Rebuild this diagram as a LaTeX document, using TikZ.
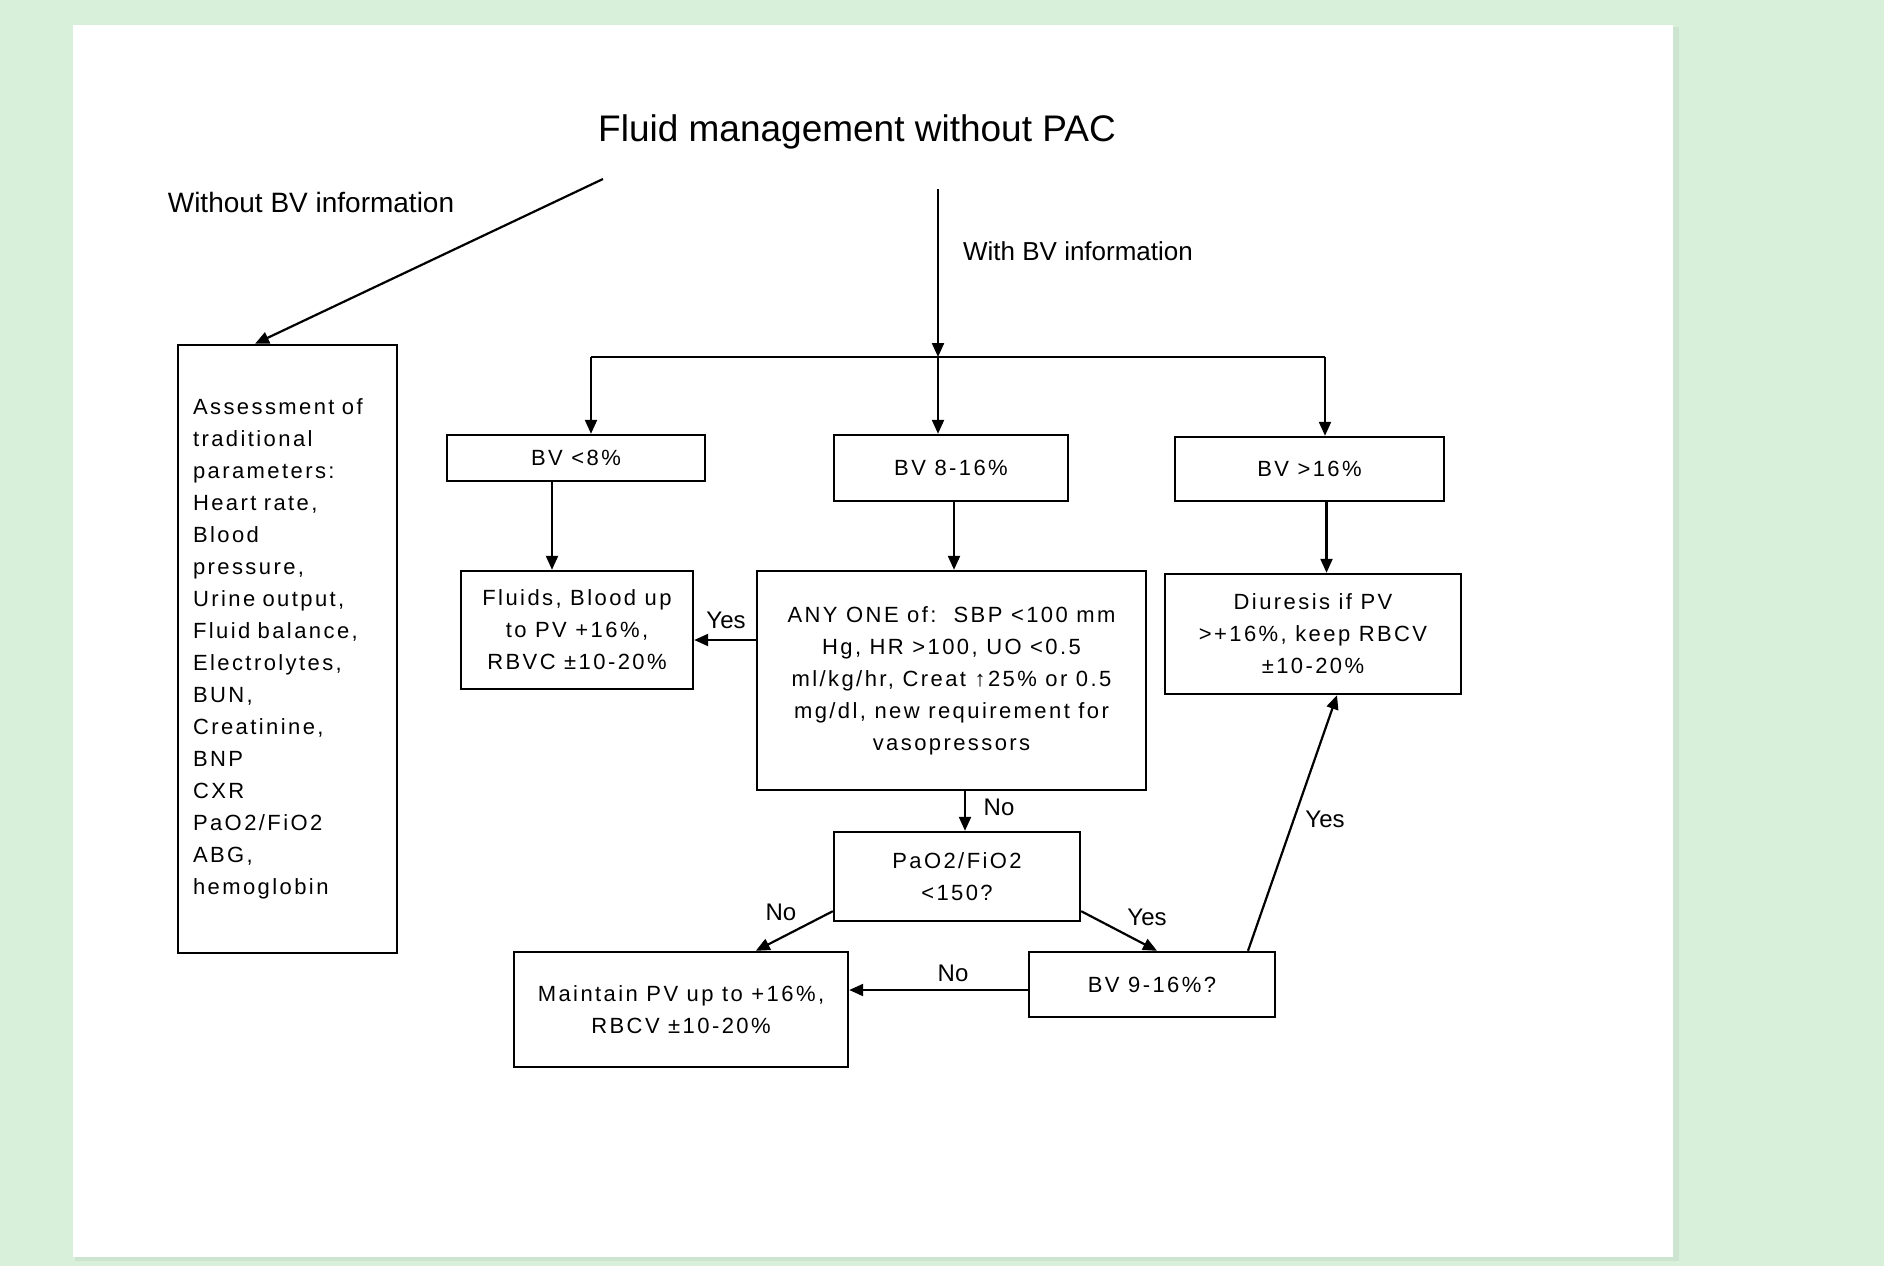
\documentclass[tikz,border=0pt]{standalone}
\usepackage{fontspec}
\setmainfont{Liberation Sans}
\newfontfamily\boxfont[LetterSpace=11]{Liberation Sans}
\usetikzlibrary{arrows.meta}
\definecolor{bggreen}{RGB}{216,240,218}
\definecolor{edgegreen}{RGB}{205,228,208}
\begin{document}
\begin{tikzpicture}[x=1pt,y=-1pt,
  box/.style={draw=black, line width=2.4pt, inner sep=0pt, align=center,
    font=\boxfont\fontsize{22}{32}\selectfont},
  arr/.style={draw=black, line width=2.2pt, -{Triangle[length=14pt,width=12pt]}},
  plain/.style={draw=black, line width=2.2pt},
  lbl/.style={inner sep=0pt, font=\fontsize{24}{28}\selectfont}]
\fill[bggreen] (0,0) rectangle (1884,1266);
\useasboundingbox (0,0) rectangle (1884,1266);
\fill[edgegreen] (75,27) rectangle (1679,1261);
\fill[white] (73,25) rectangle (1673,1257);

% title and branch labels
\node[inner sep=0pt, font=\fontsize{37}{40}\selectfont] (title) at (857,132) {Fluid management without PAC};
\node[inner sep=0pt, font=\fontsize{28}{32}\selectfont] (wo) at (311,202) {Without BV information};
\node[inner sep=0pt, font=\fontsize{26}{30}\selectfont] (wi) at (1078,251) {With BV information};

% boxes
\node[box, minimum width=219pt, minimum height=608pt, text width=189pt, inner xsep=15pt, align=left] (left) at (287.5,649)
 {Assessment of\\traditional\\parameters:\\Heart rate,\\Blood\\pressure,\\Urine output,\\Fluid balance,\\Electrolytes,\\BUN,\\Creatinine,\\BNP\\CXR\\PaO2/FiO2\\ABG,\\hemoglobin};
\node[box, minimum width=258pt, minimum height=46pt] (bvlow) at (576,458) {BV <8\%};
\node[box, minimum width=234pt, minimum height=66pt] (bvmid) at (951,468) {BV 8-16\%};
\node[box, minimum width=269pt, minimum height=64pt] (bvhigh) at (1309.5,469) {BV >16\%};
\node[box, minimum width=232pt, minimum height=118pt] (fluids) at (577,630) {Fluids, Blood up\\to PV +16\%,\\RBVC ±10-20\%};
\node[box, minimum width=389pt, minimum height=219pt] (anyone) at (951.5,680.5)
 {ANY ONE of:\ \ SBP <100 mm\\Hg, HR >100, UO <0.5\\ml/kg/hr, Creat ↑25\% or 0.5\\mg/dl, new requirement for\\vasopressors};
\node[box, minimum width=296pt, minimum height=120pt] (diur) at (1313,634) {Diuresis if PV\\>+16\%, keep RBCV\\±10-20\%};
\node[box, minimum width=246pt, minimum height=89pt] (pao2) at (957,876.5) {PaO2/FiO2\\<150?};
\node[box, minimum width=334pt, minimum height=115pt] (maint) at (681,1009.5) {Maintain PV up to +16\%,\\RBCV ±10-20\%};
\node[box, minimum width=246pt, minimum height=65pt] (bvq) at (1152,984.5) {BV 9-16\%?};

% connectors
\coordinate (t1) at (603,179);
\coordinate (w1) at (938,189);
\coordinate (jl) at (591,357);
\coordinate (jm) at (938,357);
\coordinate (jr) at (1325,357);
\draw[arr] (t1) -- ([xshift=-32.5pt]left.north);
\draw[arr] (w1) -- (jm);
\draw[plain] (jl) -- (jr);
\draw[arr] (jl) -- (jl |- bvlow.north);
\draw[arr] (jm) -- (jm |- bvmid.north);
\draw[arr] (jr) -- (jr |- bvhigh.north);
\draw[arr] ([xshift=-24pt]bvlow.south) -- ([xshift=-24pt]bvlow.south |- fluids.north);
\draw[arr] ([xshift=3pt]bvmid.south) -- ([xshift=3pt]bvmid.south |- anyone.north);
\draw[arr] ([xshift=17pt]bvhigh.south) -- ([xshift=17pt]bvhigh.south |- diur.north);
\draw[arr] ([yshift=40.5pt]anyone.west) -- ([yshift=40.5pt]anyone.west -| fluids.east);
\draw[arr] ([xshift=13.5pt]anyone.south) -- ([xshift=13.5pt]anyone.south |- pao2.north);
\draw[arr] ([yshift=11pt]pao2.south west) -- ([xshift=243pt]maint.north west);
\draw[arr] ([yshift=11pt]pao2.south east) -- ([xshift=5pt]bvq.north);
\draw[arr] ([yshift=-5.5pt]bvq.west) -- ([yshift=-5.5pt]bvq.west -| maint.east);
\draw[arr] ([xshift=96pt]bvq.north) -- ([xshift=24pt]diur.south);

% connector labels
\node[lbl] (yes1) at (726,620) {Yes};
\node[lbl] (no1) at (999,807) {No};
\node[lbl] (no2) at (781,912) {No};
\node[lbl] (yes2) at (1147,917) {Yes};
\node[lbl] (no3) at (953,973) {No};
\node[lbl] (yes3) at (1325,819) {Yes};
\end{tikzpicture}
\end{document}
